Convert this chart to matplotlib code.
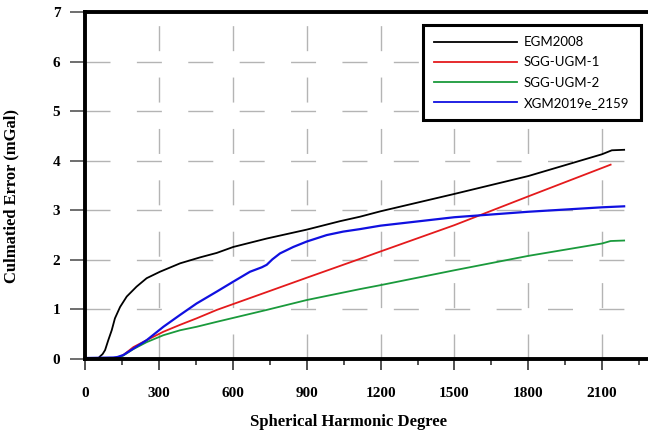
import matplotlib
matplotlib.use("Agg")
import matplotlib.pyplot as plt
from matplotlib.ticker import MultipleLocator

# degree / cumulative error (mGal)
egm_deg = [0, 50, 59, 70, 80, 93, 107, 120, 141, 168, 208, 249, 303, 385, 466, 534,
           601, 737, 900, 1035, 1116, 1200, 1500, 1800, 2100, 2140, 2190]
egm_val = [0, 0, 0.05, 0.1, 0.18, 0.38, 0.58, 0.82, 1.05, 1.26, 1.46, 1.63, 1.76, 1.93,
           2.05, 2.14, 2.26, 2.43, 2.61, 2.78, 2.87, 2.98, 3.33, 3.69, 4.13, 4.21, 4.22]

ugm1_deg = [0, 110, 130, 154, 195, 249, 317, 385, 452, 534, 737, 900, 1116, 1200, 1500,
            1800, 2135]
ugm1_val = [0, 0, 0.02, 0.08, 0.24, 0.38, 0.55, 0.69, 0.82, 0.99, 1.35, 1.64, 2.02, 2.17,
            2.7, 3.28, 3.92]

ugm2_deg = [0, 110, 130, 154, 195, 249, 317, 385, 452, 534, 737, 900, 1116, 1200, 1500,
            1800, 2100, 2135, 2190]
ugm2_val = [0, 0, 0.02, 0.07, 0.2, 0.34, 0.48, 0.58, 0.65, 0.75, 0.99, 1.19, 1.41, 1.49,
            1.79, 2.08, 2.33, 2.38, 2.39]

xgm_deg = [0, 113, 130, 154, 195, 249, 317, 385, 452, 534, 601, 669, 717, 737, 760, 791,
           845, 900, 981, 1048, 1116, 1200, 1500, 1800, 2100, 2190]
xgm_val = [0.02, 0.03, 0.04, 0.08, 0.21, 0.38, 0.65, 0.89, 1.12, 1.36, 1.56, 1.76, 1.85,
           1.9, 2.01, 2.13, 2.26, 2.37, 2.5, 2.57, 2.62, 2.69, 2.86, 2.97, 3.06, 3.08]

fig = plt.figure(figsize=(6.48, 4.34), dpi=100)
ax = fig.add_axes([0.1318, 0.1728, 0.8682, 0.7996])

ax.plot(egm_deg, egm_val, color="black", lw=1.3, label="EGM2008")
ax.plot(ugm1_deg, ugm1_val, color="#e41a1c", lw=1.3, label="SGG-UGM-1")
ax.plot(ugm2_deg, ugm2_val, color="#1a9a3c", lw=1.3, label="SGG-UGM-2")
ax.plot(xgm_deg, xgm_val, color="#1010e0", lw=1.6, label="XGM2019e_2159")

ax.set_xlim(0, 2287)
ax.set_ylim(0, 7)
ax.xaxis.set_major_locator(MultipleLocator(300))
ax.xaxis.set_minor_locator(MultipleLocator(150))
ax.yaxis.set_major_locator(MultipleLocator(1))

ax.grid(True, which="major", color="#b4b4b4", lw=1.0, linestyle=(0, (18, 19)))
ax.set_axisbelow(True)

for s in ["left", "bottom", "top"]:
    ax.spines[s].set_linewidth(2.8)
ax.spines["right"].set_visible(False)

ax.tick_params(axis="x", which="major", length=8, width=1.2, color="#333333", pad=12)
ax.tick_params(axis="x", which="minor", length=4, width=1.2, color="#333333")
ax.tick_params(axis="y", which="major", length=11, width=1.2, color="#555555", pad=7)

for lab in ax.get_xticklabels() + ax.get_yticklabels():
    lab.set_fontfamily("Liberation Serif")
    lab.set_fontweight("bold")
    lab.set_fontsize(11)

ax.set_xlabel("Spherical Harmonic Degree", fontfamily="Liberation Serif",
              fontweight="bold", fontsize=12)
ax.xaxis.set_label_coords(0.467, -0.158)
ax.set_ylabel("Culmatied Error (mGal)", fontfamily="Liberation Serif",
              fontweight="bold", fontsize=12)
ax.yaxis.set_label_coords(-0.118, 0.47)

leg = fig.legend(loc="upper left", bbox_to_anchor=(423 / 648, 1 - 25 / 434),
                 borderaxespad=0, prop={"family": "Lato", "size": 9.5},
                 handlelength=6.3, handletextpad=0.5, labelspacing=0.62,
                 borderpad=0.85, fancybox=False, framealpha=1, edgecolor="black")
leg.get_frame().set_linewidth(2.2)
for h in leg.get_lines():
    h.set_linewidth(1.3)

fig.savefig("out.png", dpi=100)
